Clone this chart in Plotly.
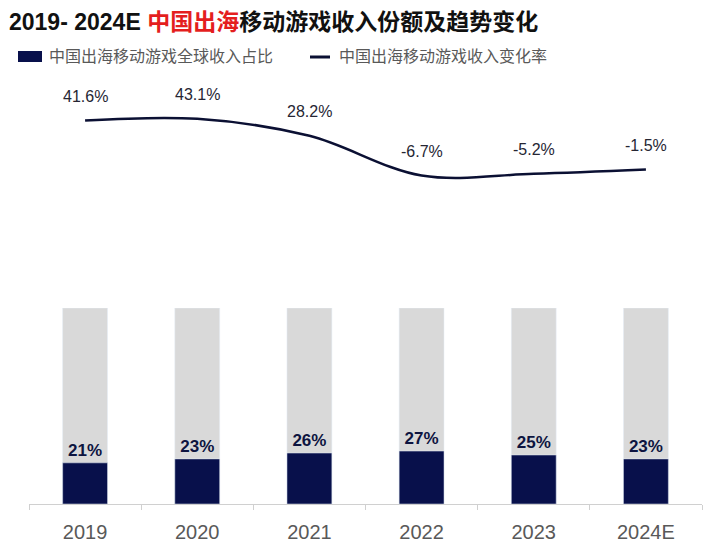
import plotly.graph_objects as go

years = ["2019", "2020", "2021", "2022", "2023", "2024E"]
share = [21, 23, 26, 27, 25, 23]          # 中国出海移动游戏全球收入占比 (%)
total = [100, 100, 100, 100, 100, 100]    # 100% background bars
growth = [41.6, 43.1, 28.2, -6.7, -5.2, -1.5]  # 中国出海移动游戏收入变化率 (%)

share_name = "中国出海移动游戏全球收入占比"
growth_name = "中国出海移动游戏收入变化率"

FONT = "Liberation Sans, Arial, Noto Sans CJK SC, sans-serif"
NAVY = "#08104b"
GRAY_BAR = "#d9d9d9"
LINE = "#0b1033"
TXT_GRAY = "#595959"

W, H = 711, 553
OFF = 8  # page body margin offset

# target page-pixel layout of the plot area
PL, PR, PT, PB = 29, 702, 80, 504
ML = PL - OFF
MT = PT - OFF
MR = W - (PR - OFF)
MB = H - (PB - OFF)
PW, PH = PR - PL, PB - PT


def px_x(p):
    return (p - PL) / PW


def px_y(p):
    return (PB - p) / PH


fig = go.Figure()

fig.add_trace(go.Bar(
    x=years, y=total, marker_color=GRAY_BAR, width=0.40,
    hoverinfo="skip", showlegend=False, yaxis="y"))
fig.add_trace(go.Bar(
    x=years, y=share, name=share_name, marker_color=NAVY, width=0.40,
    text=[f"{v}%" for v in share], textposition="outside",
    textfont=dict(family=FONT, size=17, color="#0d1440", weight="bold"),
    cliponaxis=False, showlegend=False, yaxis="y"))
fig.add_trace(go.Scatter(
    x=years, y=growth, name=growth_name, mode="lines",
    line=dict(color=LINE, width=2.5, shape="spline", smoothing=1.0),
    showlegend=False, yaxis="y2"))

annotations = []
for i, g in enumerate(growth):
    annotations.append(dict(
        x=i, y=g, xref="x", yref="y2", text=f"{g}%", showarrow=False,
        yshift=24, font=dict(family=FONT, size=16, color="#262633")))

# manual legend
annotations.append(dict(
    x=px_x(47), y=px_y(57), xref="paper", yref="paper", xanchor="left", yanchor="middle",
    text=share_name, showarrow=False, font=dict(family=FONT, size=16, color=TXT_GRAY)))
annotations.append(dict(
    x=px_x(337), y=px_y(57), xref="paper", yref="paper", xanchor="left", yanchor="middle",
    text=growth_name, showarrow=False, font=dict(family=FONT, size=16, color=TXT_GRAY)))

shapes = [
    dict(type="rect", xref="paper", yref="paper",
         x0=px_x(18), x1=px_x(42), y0=px_y(62), y1=px_y(51),
         fillcolor=NAVY, line=dict(width=0)),
    dict(type="line", xref="paper", yref="paper",
         x0=px_x(310), x1=px_x(330), y0=px_y(57), y1=px_y(57),
         line=dict(color=LINE, width=3)),
]

fig.update_layout(
    width=W, height=H,
    margin=dict(l=ML, r=MR, t=MT, b=MB, autoexpand=False),
    paper_bgcolor="white", plot_bgcolor="white",
    barmode="overlay", bargap=0.6,
    title=dict(
        text="<b>2019- 2024E <span style='color:#e41e1e'>中国出海</span>移动游戏收入份额及趋势变化</b>",
        x=(9 - OFF) / W, xanchor="left", xref="container",
        y=1 - (22 - OFF) / H, yanchor="middle", yref="container",
        font=dict(family=FONT, size=23, color="#111111")),
    xaxis=dict(
        type="category", range=[-0.5, 5.5], showgrid=False,
        showline=True, linecolor="#d0d0d0", linewidth=1,
        ticks="outside", tickson="boundaries", ticklen=5, tickcolor="#d0d0d0",
        ticklabelstandoff=10,
        tickfont=dict(family=FONT, size=20, color=TXT_GRAY)),
    yaxis=dict(
        domain=[0, (PB - 308) / PH], range=[0, 100],
        visible=False, showgrid=False, zeroline=False),
    yaxis2=dict(
        domain=[(PB - 200) / PH, 1], range=[-28.2, 77.2],
        visible=False, showgrid=False, zeroline=False, anchor="x"),
    annotations=annotations,
    shapes=shapes,
    showlegend=False,
)

fig.write_html("out.html")
